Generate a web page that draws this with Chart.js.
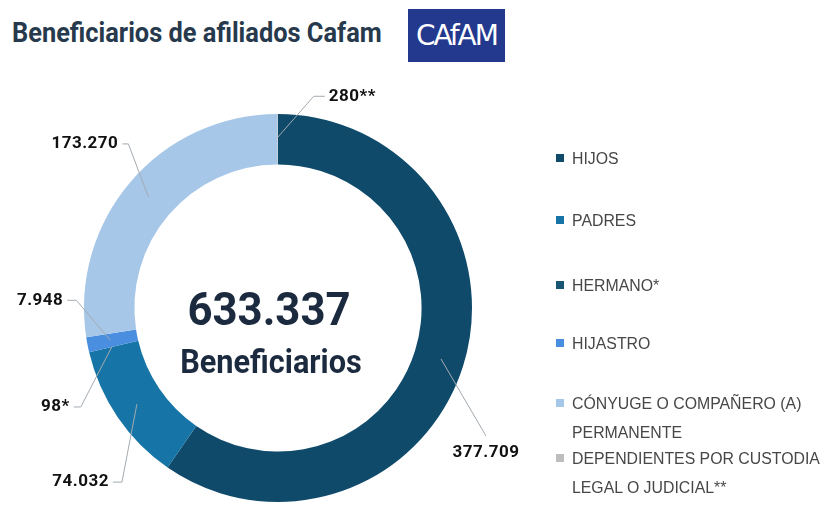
<!DOCTYPE html>
<html lang="es">
<head>
<meta charset="UTF-8">
<title>Beneficiarios de afiliados Cafam</title>
<script src="https://cdn.jsdelivr.net/npm/chart.js"></script>
<style>
  html, body { margin: 0; padding: 0; background: #fff; }
  #wrap { position: relative; width: 822px; height: 508px; overflow: hidden; }
  #title {
    position: absolute; left: 12px; top: 17px;
    font-family: Roboto, "Liberation Sans", sans-serif; font-weight: 700;
    font-size: 27px; color: #27394c; white-space: nowrap;
    transform: scaleX(0.94); transform-origin: left top;
  }
  #logo {
    position: absolute; left: 408px; top: 9px; width: 97px; height: 53px;
    background: #22398e; color: #fff; display: flex; align-items: center; justify-content: center;
    font-family: "DejaVu Sans", sans-serif; font-size: 28px; font-weight: 400; letter-spacing: -2px;
  }
  #chart { position: absolute; left: 0; top: 0; width: 822px; height: 508px; }
  .lg { position: absolute; left: 556px; font-family: "Liberation Sans", Arial, sans-serif;
        font-size: 16px; color: #474747; line-height: 29px; white-space: nowrap; }
  .lg i { position: absolute; left: 0; top: 10px; width: 8px; height: 8px; }
  .lg span { display: block; margin-left: 16px; transform: scaleX(0.99); transform-origin: left top; }
</style>
</head>
<body>
<div id="wrap">
  <div id="title">Beneficiarios de afiliados Cafam</div>
  <div id="logo">CAfAM</div>
  <div id="chart"><canvas id="donut"></canvas></div>
  <div id="legend"></div>
</div>
<script>
// beneficiaries by relationship to the affiliate
var categories = ['HIJOS', 'PADRES', 'HERMANO*', 'HIJASTRO', 'CÓNYUGE O COMPAÑERO (A) PERMANENTE', 'DEPENDIENTES POR CUSTODIA LEGAL O JUDICIAL**'];
var legendLines = [['HIJOS'], ['PADRES'], ['HERMANO*'], ['HIJASTRO'], ['CÓNYUGE O COMPAÑERO (A)', 'PERMANENTE'], ['DEPENDIENTES POR CUSTODIA', 'LEGAL O JUDICIAL**']];
var values = [377709, 74032, 98, 7948, 173270, 280];
var valueLabels = ['377.709', '74.032', '98*', '7.948', '173.270', '280**'];
var centerLabels = ['633.337', 'Beneficiarios'];

var colors = ['#0f4a6b', '#1675a6', '#175574', '#4a8ee0', '#a6c7e8', '#bdbdbd'];

// leader line: from a point on the slice to an elbow, then a short tail to the text
var leaders = [
  { elbow: [45, 77], tail: 0, align: 'center', textDy: 17 },
  { elbow: [-15, 78], tail: -9, align: 'right', textDy: 0 },
  { elbow: [-31, 60], tail: -7, align: 'right', textDy: 0 },
  { elbow: [-34, -40], tail: -9, align: 'right', textDy: 0 },
  { elbow: [-20, -53], tail: -6, align: 'right', textDy: 0 },
  { elbow: [36, -41], tail: 11, align: 'left', textDy: 0 }
];
var legendTops = [144, 206, 271, 329, 389, 444];

// legend
var legendEl = document.getElementById('legend');
legendLines.forEach(function (lines, i) {
  var d = document.createElement('div');
  d.className = 'lg';
  d.style.top = legendTops[i] + 'px';
  d.innerHTML = '<i style="background:' + colors[i] + '"></i><span>' + lines.join('<br>') + '</span>';
  legendEl.appendChild(d);
});

// text squeezed horizontally around its anchor
function squeezedText(ctx, text, x, y, sx) {
  ctx.save();
  ctx.translate(x, y);
  ctx.scale(sx, 1);
  ctx.fillText(text, 0, 0);
  ctx.restore();
}

var labelPlugin = {
  id: 'sliceLabels',
  afterDatasetsDraw: function (chart) {
    var ctx = chart.ctx;
    var arcs = chart.getDatasetMeta(0).data;
    ctx.save();
    arcs.forEach(function (arc, i) {
      var p = arc.getProps(['x', 'y', 'startAngle', 'endAngle', 'outerRadius'], true);
      var mid = (p.startAngle + p.endAngle) / 2;
      var r = p.outerRadius * 0.88;
      var sx = p.x + Math.cos(mid) * r;
      var sy = p.y + Math.sin(mid) * r;
      var L = leaders[i];
      var ex = sx + L.elbow[0], ey = sy + L.elbow[1];
      var tx = ex + L.tail;
      ctx.strokeStyle = '#a3aab0';
      ctx.lineWidth = 1;
      ctx.beginPath();
      ctx.moveTo(sx, sy);
      ctx.lineTo(ex, ey);
      if (L.tail) ctx.lineTo(tx, ey);
      ctx.stroke();
      ctx.fillStyle = '#111';
      ctx.font = 'bold 17px Roboto, "Liberation Sans", sans-serif';
      ctx.letterSpacing = '0.5px';
      ctx.textBaseline = 'middle';
      ctx.textAlign = L.align;
      var gap = L.align === 'right' ? -4 : (L.align === 'left' ? 4 : 0);
      ctx.fillText(valueLabels[i], tx + gap, ey + L.textDy);
    });

    // total in the hole
    var c = arcs[0];
    ctx.letterSpacing = '0px';
    ctx.fillStyle = '#1b2a3e';
    ctx.textAlign = 'center';
    ctx.textBaseline = 'alphabetic';
    ctx.font = 'bold 46px Roboto, "Liberation Sans", sans-serif';
    squeezedText(ctx, centerLabels[0], c.x - 9, c.y + 17, 0.95);
    ctx.font = 'bold 33px Roboto, "Liberation Sans", sans-serif';
    squeezedText(ctx, centerLabels[1], c.x - 7, c.y + 65, 0.93);
    ctx.restore();
  }
};

var ctx = document.getElementById('donut').getContext('2d');
var donut = new Chart(ctx, {
  type: 'doughnut',
  data: {
    labels: categories,
    datasets: [{
      data: values,
      backgroundColor: colors,
      borderWidth: 0
    }]
  },
  options: {
    responsive: true,
    maintainAspectRatio: false,
    animation: false,
    events: [],
    cutout: '74%',
    layout: { padding: { left: 84, top: 114, right: 350, bottom: 6 } },
    plugins: {
      legend: { display: false },
      tooltip: { enabled: false }
    }
  },
  plugins: [labelPlugin]
});
</script>
</body>
</html>
